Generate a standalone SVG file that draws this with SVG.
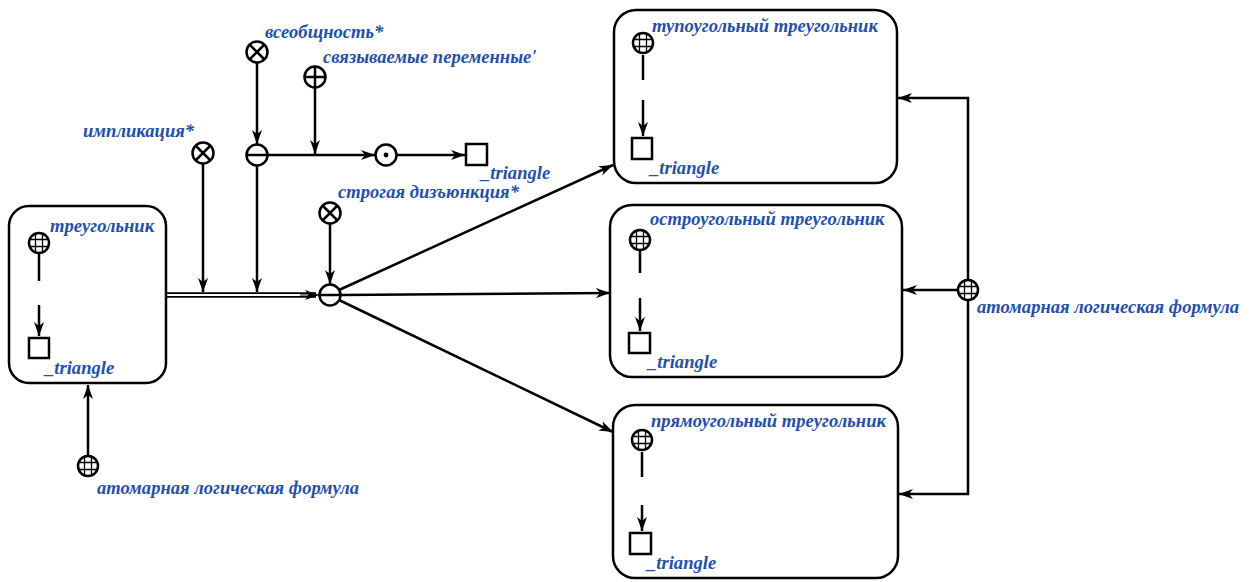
<svg xmlns="http://www.w3.org/2000/svg" xmlns:xlink="http://www.w3.org/1999/xlink" width="1250" height="582" viewBox="0 0 1250 582">
<style>
.box{fill:#fff;stroke:#000;stroke-width:2.5}
.ln{fill:none;stroke:#000;stroke-width:2.5}
.lbl{font-family:"Liberation Serif",serif;font-style:italic;font-weight:bold;font-size:18.6px;fill:#2650a6}
.sym{fill:#fff;stroke:#000;stroke-width:2.5}
.thin{stroke:#000;stroke-width:1.3;fill:none}
</style>
<defs>
<marker id="arr" viewBox="0 0 14 10" refX="14" refY="5" markerWidth="14" markerHeight="10" orient="auto" markerUnits="userSpaceOnUse">
<path d="M0,0 L14,5 L0,10 L4,5 z" fill="#000"/>
</marker>
<g id="globe"><circle r="10" class="sym"/><path class="thin" d="M-3.5,-9.2V9.2M3.5,-9.2V9.2M-9.2,-3.5H9.2M-9.2,3.5H9.2"/></g>
<g id="otimes"><circle r="10.5" class="sym"/><path class="ln" d="M-7,-7L7,7M-7,7L7,-7"/></g>
<g id="ominus"><circle r="10.5" class="sym"/><path class="ln" d="M-10.5,0H10.5"/></g>
<g id="oplus"><circle r="10.5" class="sym"/><path class="ln" d="M-10.5,0H10.5M0,-10.5V10.5"/></g>
<g id="odot"><circle r="10.5" class="sym"/><circle r="2.4" fill="#000"/></g>
</defs>

<g id="connectors">
<line class="ln" x1="88" y1="455" x2="88" y2="385" marker-end="url(#arr)"/>
<line x1="166" y1="295" x2="316" y2="295" stroke="#000" stroke-width="5.5"/>
<line x1="166" y1="295" x2="308" y2="295" stroke="#fff" stroke-width="2"/>
<line x1="300" y1="295" x2="319" y2="295" stroke="#000" stroke-width="1" marker-end="url(#arr)"/>
<line class="ln" x1="203" y1="164" x2="203" y2="292" marker-end="url(#arr)"/>
<line class="ln" x1="257" y1="166" x2="257" y2="292" marker-end="url(#arr)"/>
<line class="ln" x1="257" y1="63" x2="257" y2="144" marker-end="url(#arr)"/>
<line class="ln" x1="315" y1="88" x2="315" y2="154" marker-end="url(#arr)"/>
<line class="ln" x1="268" y1="155" x2="375" y2="155" marker-end="url(#arr)"/>
<line class="ln" x1="397" y1="155" x2="465" y2="155" marker-end="url(#arr)"/>
<line class="ln" x1="330" y1="224" x2="330" y2="284" marker-end="url(#arr)"/>
<line class="ln" x1="339" y1="290" x2="613" y2="165" marker-end="url(#arr)"/>
<line class="ln" x1="340" y1="295" x2="610" y2="293" marker-end="url(#arr)"/>
<line class="ln" x1="339" y1="300" x2="613" y2="432" marker-end="url(#arr)"/>
<polyline class="ln" points="968,280 968,98 898,98" marker-end="url(#arr)"/>
<line class="ln" x1="958" y1="290" x2="903" y2="290" marker-end="url(#arr)"/>
<polyline class="ln" points="968,300 968,494 899,494" marker-end="url(#arr)"/>
</g>

<g id="node-triangle">
<rect class="box" x="9" y="206" width="157" height="177" rx="20"/>
<use href="#globe" x="39" y="243"/>
<line class="ln" x1="39" y1="254" x2="39" y2="281"/>
<line class="ln" x1="39" y1="305" x2="39" y2="336" marker-end="url(#arr)"/>
<rect class="sym" x="29" y="338" width="20" height="20"/>
<text class="lbl" x="50" y="232">треугольник</text>
<text class="lbl" x="45" y="374">_triangle</text>
</g>

<g id="node-atomic-left">
<use href="#globe" x="88" y="466"/>
<text class="lbl" x="97" y="494">атомарная логическая формула</text>
</g>

<g id="node-implication">
<use href="#otimes" x="203" y="153"/>
<text class="lbl" x="83" y="137">импликация*</text>
</g>

<g id="node-universality">
<use href="#otimes" x="257" y="52"/>
<text class="lbl" x="265" y="38">всеобщность*</text>
</g>

<g id="node-conj-top">
<use href="#ominus" x="257" y="155"/>
</g>

<g id="node-bound-vars">
<use href="#oplus" x="315" y="77"/>
<text class="lbl" x="323" y="63">связываемые переменные'</text>
</g>

<g id="node-odot">
<use href="#odot" x="386" y="155"/>
</g>

<g id="node-triangle-var">
<rect class="sym" x="466" y="144" width="21" height="21"/>
<text class="lbl" x="481" y="179">_triangle</text>
</g>

<g id="node-xor">
<use href="#otimes" x="330" y="213"/>
<text class="lbl" x="338" y="198">строгая дизъюнкция*</text>
</g>

<g id="node-main-conj">
<use href="#ominus" x="330" y="295"/>
</g>

<g id="node-obtuse">
<rect class="box" x="614" y="10" width="283" height="173" rx="22"/>
<use href="#globe" x="643" y="43"/>
<line class="ln" x1="643" y1="55" x2="643" y2="80"/>
<line class="ln" x1="643" y1="100" x2="643" y2="136" marker-end="url(#arr)"/>
<rect class="sym" x="632" y="138" width="20" height="21"/>
<text class="lbl" x="652" y="32">тупоугольный треугольник</text>
<text class="lbl" x="650" y="174">_triangle</text>
</g>

<g id="node-acute">
<rect class="box" x="610" y="205" width="292" height="172" rx="22"/>
<use href="#globe" x="640" y="240"/>
<line class="ln" x1="640" y1="251" x2="640" y2="273"/>
<line class="ln" x1="640" y1="298" x2="640" y2="331" marker-end="url(#arr)"/>
<rect class="sym" x="629" y="333" width="21" height="20"/>
<text class="lbl" x="650" y="225">остроугольный треугольник</text>
<text class="lbl" x="648" y="368">_triangle</text>
</g>

<g id="node-right">
<rect class="box" x="613" y="405" width="285" height="173" rx="22"/>
<use href="#globe" x="642" y="440"/>
<line class="ln" x1="642" y1="452" x2="642" y2="477"/>
<line class="ln" x1="642" y1="505" x2="642" y2="531" marker-end="url(#arr)"/>
<rect class="sym" x="630" y="533" width="21" height="21"/>
<text class="lbl" x="651" y="427">прямоугольный треугольник</text>
<text class="lbl" x="647" y="569">_triangle</text>
</g>

<g id="node-atomic-right">
<use href="#globe" x="968" y="290"/>
<text class="lbl" x="977" y="313">атомарная логическая формула</text>
</g>
</svg>
